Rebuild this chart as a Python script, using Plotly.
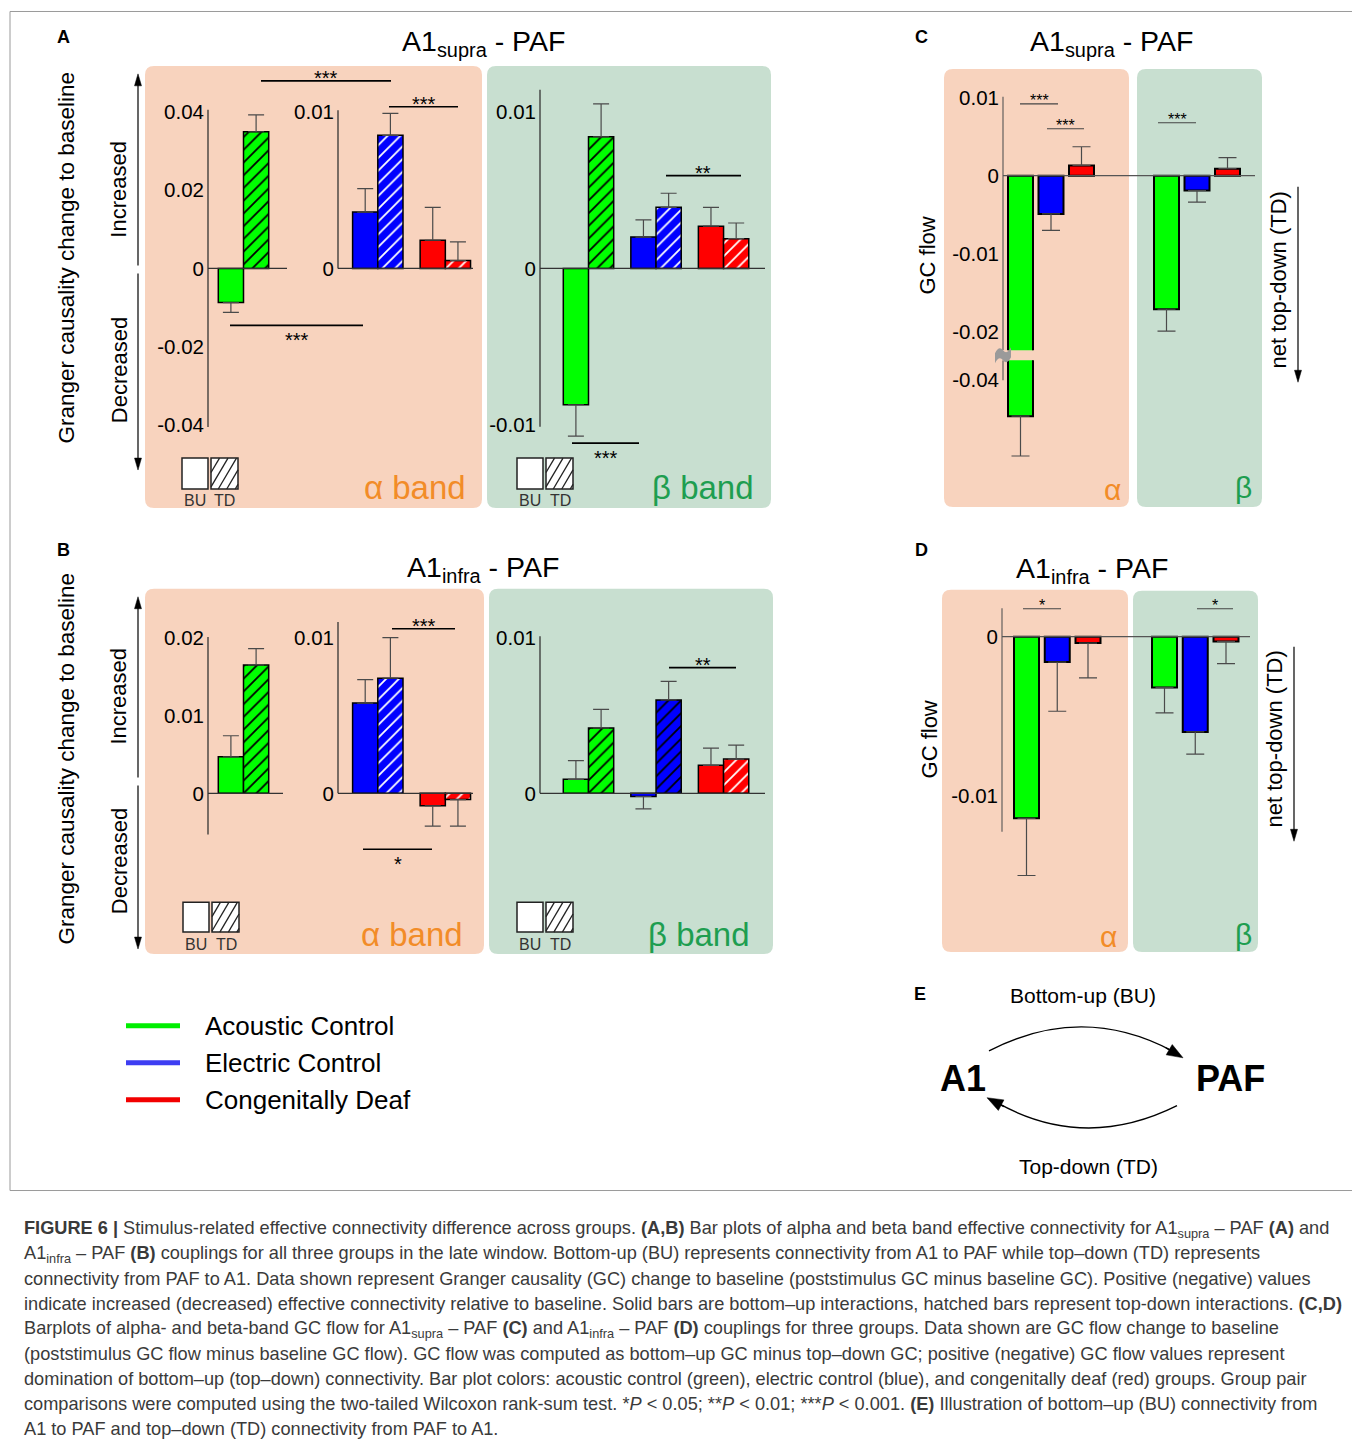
import math
import plotly.graph_objects as go

# page offset of the plot div inside the browser page
OX, OY = 8, 10
W, H = 1360 - OX, 1444 - OY
FONT = "Liberation Sans, Arial, Helvetica, sans-serif"


def px(x):
    return (x - OX) / W


def py(y):
    return 1 - (y - OY) / H


# ---------------- data ----------------
groups = ["Acoustic Control", "Electric Control", "Congenitally Deaf"]

# Panel A: A1supra - PAF, GC change to baseline (BU solid, TD hatched)
A_alpha_BU = [-0.0087, 0.0036, 0.0018]
A_alpha_BU_sem = [0.0025, 0.0015, 0.0021]
A_alpha_TD = [0.0349, 0.0085, 0.0005]
A_alpha_TD_sem = [0.0043, 0.0014, 0.0012]
A_beta_BU = [-0.0087, 0.0020, 0.0027]
A_beta_BU_sem = [0.0020, 0.0011, 0.0012]
A_beta_TD = [0.0084, 0.0039, 0.0019]
A_beta_TD_sem = [0.0021, 0.0009, 0.0010]

# Panel B: A1infra - PAF
B_alpha_BU = [0.0047, 0.0058, -0.0008]
B_alpha_BU_sem = [0.0027, 0.0015, 0.0013]
B_alpha_TD = [0.0165, 0.0074, -0.0004]
B_alpha_TD_sem = [0.0021, 0.0026, 0.0017]
B_beta_BU = [0.0009, -0.0002, 0.0018]
B_beta_BU_sem = [0.0012, 0.0008, 0.0011]
B_beta_TD = [0.0042, 0.0060, 0.0022]
B_beta_TD_sem = [0.0012, 0.0012, 0.0009]

# Panel C: GC flow A1supra - PAF
C_alpha = [-0.0446, -0.0049, 0.0013]
C_alpha_sem = [0.0051, 0.0021, 0.0024]
C_beta = [-0.0171, -0.0019, 0.0009]
C_beta_sem = [0.0028, 0.0015, 0.0014]

# Panel D: GC flow A1infra - PAF
D_alpha = [-0.01145, -0.0016, -0.0004]
D_alpha_sem = [0.0036, 0.0031, 0.0022]
D_beta = [-0.0032, -0.0060, -0.0003]
D_beta_sem = [0.0016, 0.0014, 0.0014]

# tick values
A_alpha_ac_ticks = [0.04, 0.02, 0, -0.02, -0.04]
A_ec_cd_ticks = [0.01, 0]
A_beta_ticks = [0.01, 0, -0.01]
B_alpha_ac_ticks = [0.02, 0.01, 0]
B_ec_cd_ticks = [0.01, 0]
B_beta_ticks = [0.01, 0]
C_upper_ticks = [0.01, 0, -0.01, -0.02]
C_lower_ticks = [-0.04]
D_ticks = [0, -0.01]

# ---------------- style ----------------
COL = ["#00FF00", "#0000FF", "#FF0000"]
LEG_COL = ["#00EE00", "#3D3DF2", "#F20000"]
PEACH = "#F8D3BE"
MINT = "#C8DFD0"
ALPHA_C = "#F28C28"
BETA_C = "#1E9E50"
ERR_C = "#4a4a4a"
AX_C = "#333333"

fig = go.Figure()
shapes = []
annos = []
layout_axes = {}
yranges = {}


def axname(i):
    return "" if i == 1 else str(i)


def make_axis(i, xl, xr, c0, u, yt, yb, z0, v, ticks):
    s = axname(i)
    xr_ = [(xl - c0) / u, (xr - c0) / u]
    yr_ = [-(yb - z0) / v, (z0 - yt) / v]
    layout_axes["xaxis" + s] = dict(domain=[px(xl), px(xr)], range=xr_, visible=False,
                                    anchor="y" + s, fixedrange=True)
    layout_axes["yaxis" + s] = dict(domain=[py(yb), py(yt)], range=yr_, anchor="x" + s,
                                    fixedrange=True, tickmode="array", tickvals=ticks,
                                    ticktext=[f"{t:g}" for t in ticks], ticks="",
                                    showgrid=False, zeroline=False, showline=False,
                                    tickfont=dict(family=FONT, size=20.5, color="black"),
                                    ticklabelstandoff=3)
    yranges[i] = yr_


def axis_line(i, y0, y1, color=AX_C, w=1.3):
    s = axname(i)
    shapes.append(dict(type="line", xref=f"x{s} domain", yref=f"y{s}", x0=0, x1=0,
                       y0=y0, y1=y1, line=dict(color=color, width=w)))


def zero_line(i, color=AX_C, w=1.3):
    s = axname(i)
    shapes.append(dict(type="line", xref=f"x{s} domain", yref=f"y{s}", x0=0, x1=1,
                       y0=0, y1=0, line=dict(color=color, width=w)))


def add_bar(i, x, val, sem, color, hatch=None, lw=1.5, capw=8):
    s = axname(i)
    marker = dict(color=color, line=dict(color="black", width=lw))
    if hatch:
        marker["pattern"] = dict(shape="/", fgcolor=hatch, bgcolor=color, size=9,
                                 solidity=0.2, fillmode="replace")
    fig.add_trace(go.Bar(
        x=[x], y=[val], width=[1.0], marker=marker,
        error_y=dict(type="data", symmetric=False,
                     array=[sem if val >= 0 else 0], arrayminus=[sem if val < 0 else 0],
                     color=ERR_C, thickness=1.2, width=capw),
        xaxis="x" + s, yaxis="y" + s, showlegend=False, hoverinfo="skip"))


STEP = 2.68
U_AB = 25.2


def paired(i, gidx, bu, bu_sem, td, td_sem, hatch_cols):
    for g in gidx:
        add_bar(i, g * STEP - 0.5, bu[g], bu_sem[g], COL[g])
        add_bar(i, g * STEP + 0.5, td[g], td_sem[g], COL[g], hatch=hatch_cols[g])


# ---------------- axes ----------------
C0_BR = 377.8 - STEP * U_AB
make_axis(1, 208, 287, 243.5, U_AB, 70, 470, 268, 3925, A_alpha_ac_ticks)
make_axis(2, 338, 473, C0_BR, U_AB, 70, 470, 268, 15700, A_ec_cd_ticks)
make_axis(3, 540, 765, 588.5, U_AB, 70, 470, 268, 15700, A_beta_ticks)
make_axis(4, 208, 283, 243.5, U_AB, 600, 900, 794, 7800, B_alpha_ac_ticks)
make_axis(5, 338, 473, C0_BR, U_AB, 600, 900, 794, 15600, B_ec_cd_ticks)
make_axis(6, 540, 765, 588.5, U_AB, 600, 900, 794, 15600, B_beta_ticks)
C_V = 7830
make_axis(7, 1003, 1255, 1020.5, 25, 88, 350, 175, C_V, C_upper_ticks)
make_axis(8, 1003, 1255, 1020.5, 25, 360, 470, 380 + C_lower_ticks[0] * C_V, C_V, C_lower_ticks)
make_axis(9, 1002, 1250, 1026.5, 25, 600, 900, 637, 15900, D_ticks)

# ---------------- backgrounds ----------------


def rrect(x0, y0, x1, y1, color, r=9):
    X, Y = px, py
    path = (f"M{X(x0 + r)},{Y(y0)} L{X(x1 - r)},{Y(y0)} Q{X(x1)},{Y(y0)} {X(x1)},{Y(y0 + r)} "
            f"L{X(x1)},{Y(y1 - r)} Q{X(x1)},{Y(y1)} {X(x1 - r)},{Y(y1)} "
            f"L{X(x0 + r)},{Y(y1)} Q{X(x0)},{Y(y1)} {X(x0)},{Y(y1 - r)} "
            f"L{X(x0)},{Y(y0 + r)} Q{X(x0)},{Y(y0)} {X(x0 + r)},{Y(y0)} Z")
    shapes.append(dict(type="path", path=path, xref="paper", yref="paper",
                       fillcolor=color, line=dict(width=0), layer="below"))


rrect(145, 65, 482, 508, PEACH)
rrect(487, 65, 771, 508, MINT)
rrect(145, 589, 484, 955, PEACH)
rrect(489, 589, 773, 955, MINT)
rrect(944, 68, 1129, 507, PEACH)
rrect(1137, 68, 1262, 507, MINT)
rrect(942, 590, 1128, 953, PEACH)
rrect(1133, 591, 1258, 953, MINT)

# outer frame
shapes.append(dict(type="rect", xref="paper", yref="paper", x0=px(10), x1=px(1355.5),
                   y0=py(1192), y1=py(10.5), line=dict(color="#9a9a9a", width=1),
                   fillcolor="rgba(0,0,0,0)", layer="below"))

# ---------------- bars ----------------
paired(1, [0], A_alpha_BU, A_alpha_BU_sem, A_alpha_TD, A_alpha_TD_sem, ["black", "white", "white"])
paired(2, [1, 2], A_alpha_BU, A_alpha_BU_sem, A_alpha_TD, A_alpha_TD_sem, ["black", "white", "white"])
paired(3, [0, 1, 2], A_beta_BU, A_beta_BU_sem, A_beta_TD, A_beta_TD_sem, ["black", "white", "white"])
paired(4, [0], B_alpha_BU, B_alpha_BU_sem, B_alpha_TD, B_alpha_TD_sem, ["black", "white", "white"])
paired(5, [1, 2], B_alpha_BU, B_alpha_BU_sem, B_alpha_TD, B_alpha_TD_sem, ["black", "white", "white"])
paired(6, [0, 1, 2], B_beta_BU, B_beta_BU_sem, B_beta_TD, B_beta_TD_sem, ["black", "black", "white"])

C_STEP, C_BETA_OFF = 1.22, 5.84
for i in (7, 8):
    for g in range(3):
        add_bar(i, g * C_STEP, C_alpha[g], C_alpha_sem[g], COL[g], lw=2, capw=9)
        add_bar(i, C_BETA_OFF + g * C_STEP, C_beta[g], C_beta_sem[g], COL[g], lw=2, capw=9)

D_STEP, D_BETA_OFF = 1.23, 5.52
for g in range(3):
    add_bar(9, g * D_STEP, D_alpha[g], D_alpha_sem[g], COL[g], lw=2, capw=9)
    add_bar(9, D_BETA_OFF + g * D_STEP, D_beta[g], D_beta_sem[g], COL[g], lw=2, capw=9)

# ---------------- axis lines ----------------
axis_line(1, -0.0405, 0.0405)
axis_line(2, 0, 0.0101)
axis_line(3, -0.0101, 0.0114)
axis_line(4, -0.0053, 0.0201)
axis_line(5, 0, 0.011)
axis_line(6, 0, 0.0101)
axis_line(7, yranges[7][0], 0.0101, color="#555", w=1.1)
axis_line(8, C_lower_ticks[0], yranges[8][1], color="#555", w=1.1)
axis_line(9, -0.0123, 0.0018, color="#555", w=1.1)
for i in (1, 2, 3, 4, 5, 6):
    zero_line(i)
zero_line(7, color="#555", w=1.3)
zero_line(9, color="#555", w=1.3)

# axis break mark on C
brk = (f"M{px(995)},{py(353)} Q{px(999)},{py(345)} {px(1003)},{py(350)} Q{px(1007)},{py(355)} {px(1011)},{py(347)} "
       f"L{px(1011)},{py(357)} Q{px(1007)},{py(365)} {px(1003)},{py(360)} Q{px(999)},{py(355)} {px(995)},{py(363)} Z")
shapes.append(dict(type="path", path=brk, xref="paper", yref="paper", fillcolor="#9a9a9a",
                   line=dict(width=0)))

# ---------------- helpers for text / lines ----------------


def text(x, y, t, size, color="black", xanchor="center", yanchor="middle", angle=0, family=FONT):
    annos.append(dict(x=px(x), y=py(y), xref="paper", yref="paper", text=t, showarrow=False,
                      font=dict(family=family, size=size, color=color), xanchor=xanchor,
                      yanchor=yanchor, textangle=angle))


def pline(x0, y0, x1, y1, color="black", w=1.5):
    shapes.append(dict(type="line", xref="paper", yref="paper", x0=px(x0), y0=py(y0),
                       x1=px(x1), y1=py(y1), line=dict(color=color, width=w)))


def arrow(xh, yh, xt, yt, w=1.3, L=11, hw=4, color="black"):
    dx, dy = xh - xt, yh - yt
    n = math.hypot(dx, dy)
    ux, uy = dx / n, dy / n
    bx, by = xh - ux * L, yh - uy * L
    pline(xt, yt, bx + ux * 2, by + uy * 2, color=color, w=w)
    p1 = (bx - uy * hw, by + ux * hw)
    p2 = (bx + uy * hw, by - ux * hw)
    path = f"M{px(xh)},{py(yh)} L{px(p1[0])},{py(p1[1])} L{px(p2[0])},{py(p2[1])} Z"
    shapes.append(dict(type="path", path=path, xref="paper", yref="paper", fillcolor=color,
                       line=dict(color=color, width=0.5)))


def sig(x0, x1, y, stars, size=20, below=False, color="black", lw=1.6):
    pline(x0, y, x1, y, color=color, w=lw)
    ty = y + 15 if below else y - 3
    text((x0 + x1) / 2, ty, stars, size)


# significance marks
sig(261, 391, 80, "***")
sig(389, 458, 106, "***")
sig(230, 363, 325, "***", below=True)
sig(666, 741, 175, "**")
sig(572, 639, 443, "***", below=True)
sig(392, 455, 629, "***")
sig(363, 432, 850, "*", below=True)
sig(669, 736, 668, "**")
sig(1020, 1058, 103, "***", size=16, lw=1.2, color="#444")
sig(1047, 1084, 128, "***", size=16, lw=1.2, color="#444")
sig(1158, 1196, 122, "***", size=16, lw=1.2, color="#444")
sig(1023, 1061, 609, "*", size=16, lw=1.2, color="#444")
sig(1197, 1233, 609, "*", size=16, lw=1.2, color="#444")

# ---------------- BU / TD keys ----------------


def hatch_box(x0, y0, x1, y1, spacing=8.5, k=1.7):
    shapes.append(dict(type="rect", xref="paper", yref="paper", x0=px(x0), x1=px(x1),
                       y0=py(y1), y1=py(y0), fillcolor="white", line=dict(color="#222", width=1.5)))
    h = y1 - y0
    c = x0 - h / k
    while c < x1:
        tmin = max(0, x0 - c)
        tmax = min(h / k, x1 - c)
        if tmax > tmin:
            pline(c + tmin, y1 - tmin * k, c + tmax, y1 - tmax * k, color="#222", w=1.3)
        c += spacing


def key(x0, y0, y1, lab_y):
    shapes.append(dict(type="rect", xref="paper", yref="paper", x0=px(x0), x1=px(x0 + 26),
                       y0=py(y1), y1=py(y0), fillcolor="white", line=dict(color="#222", width=1.5)))
    hatch_box(x0 + 29, y0, x0 + 56, y1)
    text(x0 + 13, lab_y, "BU", 16, color="#333")
    text(x0 + 43, lab_y, "TD", 16, color="#333")


key(182, 458, 489, 501)
key(517, 458, 489, 501)
key(183, 903, 933, 945)
key(517, 903, 933, 945)

# ---------------- band labels ----------------
text(468, 487, "α band", 33, color=ALPHA_C, xanchor="right")
text(756, 487, "β band", 33, color=BETA_C, xanchor="right")
text(465, 935, "α band", 33, color=ALPHA_C, xanchor="right")
text(752, 935, "β band", 33, color=BETA_C, xanchor="right")
text(1112, 490, "α", 30, color=ALPHA_C)
text(1243, 488, "β", 30, color=BETA_C)
text(1108, 937, "α", 30, color=ALPHA_C)
text(1243, 935, "β", 30, color=BETA_C)

# ---------------- titles & letters ----------------
text(483, 42, "A1<sub>supra</sub> - PAF", 28.5)
text(483, 569, "A1<sub>infra</sub> - PAF", 28.5)
text(1111, 42, "A1<sub>supra</sub> - PAF", 28.5)
text(1092, 570, "A1<sub>infra</sub> - PAF", 28.5)
text(63, 36, "<b>A</b>", 18)
text(63, 550, "<b>B</b>", 18)
text(922, 36, "<b>C</b>", 18)
text(922, 550, "<b>D</b>", 18)
text(920, 995, "<b>E</b>", 18)

# ---------------- y labels A/B ----------------
for (cy, inc_y, dec_y, top, gap0, gap1, bot) in [(258, 189, 370, 73, 265, 273, 470),
                                                 (760, 697, 862, 597, 778, 786, 950)]:
    text(66, cy, "Granger causality change to baseline", 22.5, angle=-90)
    text(119, inc_y, "Increased", 22, angle=-90)
    text(119, dec_y, "Decreased", 22, angle=-90)
    arrow(138, top, 138, gap0, w=1.2, L=12, hw=3.5)
    arrow(138, bot, 138, gap1, w=1.2, L=12, hw=3.5)

# ---------------- C / D side labels ----------------
text(927, 255, "GC flow", 22, angle=-90)
text(1278, 280, "net top-down (TD)", 22, angle=-90)
arrow(1298, 382, 1298, 186, w=1.2, L=12, hw=3.5)
text(929, 740, "GC flow", 22, angle=-90)
text(1274, 740, "net top-down (TD)", 22, angle=-90)
arrow(1294, 842, 1294, 647, w=1.2, L=12, hw=3.5)

# ---------------- group legend ----------------
for k, (g, yy) in enumerate(zip(groups, [1027, 1064, 1101])):
    pline(126, yy, 180, yy, color=LEG_COL[k], w=5)
    text(203, yy, g, 26, xanchor="left")

# ---------------- panel E ----------------
text(1083, 997, "Bottom-up (BU)", 21)
text(1088, 1168, "Top-down (TD)", 21)
text(963, 1080, "<b>A1</b>", 36)
text(1230, 1080, "<b>PAF</b>", 36)
shapes.append(dict(type="path", xref="paper", yref="paper", line=dict(color="black", width=1.4),
                   path=f"M{px(989)},{py(1052)} Q{px(1082)},{py(1004)} {px(1172)},{py(1052)}"))
shapes.append(dict(type="path", xref="paper", yref="paper", line=dict(color="black", width=1.4),
                   path=f"M{px(1177)},{py(1107)} Q{px(1085)},{py(1153)} {px(997)},{py(1104)}"))
arrow(1183, 1059, 1166, 1049, w=1.4, L=16, hw=6)
arrow(987, 1099, 1004, 1108, w=1.4, L=16, hw=6)

# ---------------- caption ----------------
caption = [
    "<b>FIGURE 6 |</b> Stimulus-related effective connectivity difference across groups. <b>(A,B)</b> Bar plots of alpha and beta band effective connectivity for A1<sub>supra</sub> – PAF <b>(A)</b> and",
    "A1<sub>infra</sub> – PAF <b>(B)</b> couplings for all three groups in the late window. Bottom-up (BU) represents connectivity from A1 to PAF while top–down (TD) represents",
    "connectivity from PAF to A1. Data shown represent Granger causality (GC) change to baseline (poststimulus GC minus baseline GC). Positive (negative) values",
    "indicate increased (decreased) effective connectivity relative to baseline. Solid bars are bottom–up interactions, hatched bars represent top-down interactions. <b>(C,D)</b>",
    "Barplots of alpha- and beta-band GC flow for A1<sub>supra</sub> – PAF <b>(C)</b> and A1<sub>infra</sub> – PAF <b>(D)</b> couplings for three groups. Data shown are GC flow change to baseline",
    "(poststimulus GC flow minus baseline GC flow). GC flow was computed as bottom–up GC minus top–down GC; positive (negative) GC flow values represent",
    "domination of bottom–up (top–down) connectivity. Bar plot colors: acoustic control (green), electric control (blue), and congenitally deaf (red) groups. Group pair",
    "comparisons were computed using the two-tailed Wilcoxon rank-sum test. *<i>P</i> &lt; 0.05; **<i>P</i> &lt; 0.01; ***<i>P</i> &lt; 0.001. <b>(E)</b> Illustration of bottom–up (BU) connectivity from",
    "A1 to PAF and top–down (TD) connectivity from PAF to A1.",
]
for k, line in enumerate(caption):
    text(22, 1231 + 25 * k, line, 18.2, color="#3a3a3a", xanchor="left")

fig.update_layout(
    width=W, height=H, margin=dict(l=0, r=0, t=0, b=0),
    paper_bgcolor="white", plot_bgcolor="rgba(0,0,0,0)",
    barmode="overlay", showlegend=False,
    shapes=shapes, annotations=annos,
    font=dict(family=FONT, color="black"),
    **layout_axes,
)

fig.write_html("out.html")
